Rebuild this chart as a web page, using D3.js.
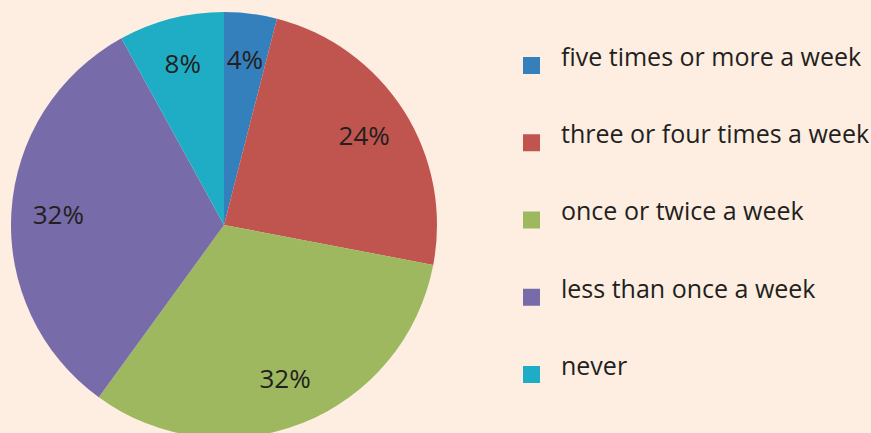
<!DOCTYPE html>
<html>
<head>
<meta charset="utf-8">
<script src="https://cdn.jsdelivr.net/npm/d3@7"></script>
<style>
  html, body { margin: 0; padding: 0; background: #fdeee1; }
  svg { display: block; font-family: "Open Sans", Lato, sans-serif; }
</style>
</head>
<body>
<script>
// categories and values
var categories = ["five times or more a week", "three or four times a week",
                  "once or twice a week", "less than once a week", "never"];
var percents = [4, 24, 32, 32, 8];
var colors = ["#3480bd", "#c0544f", "#9db85e", "#786ba9", "#1fadc6"];

var width = 871, height = 433;
var cx = 224, cy = 225, radius = 213;

var svg = d3.select("body").append("svg")
  .attr("width", width)
  .attr("height", height);

var pieG = svg.append("g")
  .attr("transform", "translate(" + cx + "," + cy + ")");

var pie = d3.pie().sort(null).value(function(d) { return d; });
var arc = d3.arc().innerRadius(0).outerRadius(radius);
var labelArc = d3.arc().innerRadius(166).outerRadius(166);

var slices = pieG.selectAll(".slice")
  .data(pie(percents))
  .enter()
  .append("g")
  .attr("class", "slice");

slices.append("path")
  .attr("d", arc)
  .attr("fill", function(d, i) { return colors[i]; });

slices.append("text")
  .attr("transform", function(d) { return "translate(" + labelArc.centroid(d) + ")"; })
  .attr("text-anchor", "middle")
  .attr("dy", "0.35em")
  .style("font-size", "26px")
  .style("fill", "#231f20")
  .text(function(d) { return d.data + "%"; });

// legend
var legendY = d3.scalePoint()
  .domain(categories)
  .range([65, 374]);

var legend = svg.append("g").selectAll(".legend-item")
  .data(categories)
  .enter()
  .append("g")
  .attr("class", "legend-item")
  .attr("transform", function(d) { return "translate(523," + legendY(d) + ")"; });

legend.append("rect")
  .attr("x", 0)
  .attr("y", -8)
  .attr("width", 17)
  .attr("height", 17)
  .attr("fill", function(d, i) { return colors[i]; });

legend.append("text")
  .attr("x", 38)
  .attr("y", -8)
  .attr("dy", "0.35em")
  .style("font-size", "25px")
  .style("fill", "#231f20")
  .text(function(d) { return d; });
</script>
</body>
</html>
